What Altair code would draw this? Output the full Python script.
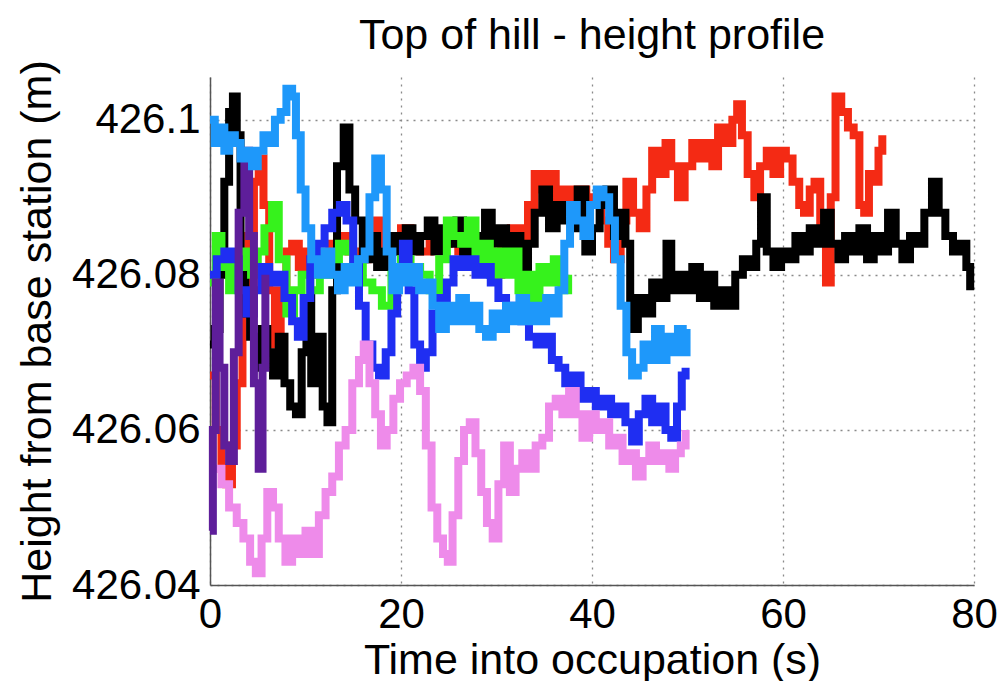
import altair as alt
import pandas as pd

# ---- data: (time s, height m) ----
red_pts = [(0, 426.067), (0.6, 426.060), (1.2, 426.055), (1.7, 426.053), (2.3, 426.058), (2.8, 426.066),
           (3.4, 426.075), (4.0, 426.085), (4.6, 426.092), (5.1, 426.095), (5.6, 426.089), (6.2, 426.078),
           (6.8, 426.071), (7.4, 426.078), (8.0, 426.083), (8.6, 426.084), (9.3, 426.081), (10.0, 426.083),
           (10.6, 426.080), (11.5, 426.083), (12.5, 426.084), (13.5, 426.085), (14.5, 426.083), (15.5, 426.082),
           (16.5, 426.085), (17.3, 426.087), (18.0, 426.084), (19.0, 426.083), (20.0, 426.086), (21.0, 426.085),
           (22.0, 426.083), (23.0, 426.085), (24.0, 426.084), (25.0, 426.086), (26.0, 426.083), (27.0, 426.085),
           (28.0, 426.083), (29.5, 426.080), (30.5, 426.084), (31.5, 426.086), (32.5, 426.085), (33.3, 426.089),
           (34.0, 426.093), (34.8, 426.091), (35.5, 426.093), (36.2, 426.090), (37.0, 426.091), (37.8, 426.089),
           (38.6, 426.091), (39.4, 426.090), (40.2, 426.089), (41.0, 426.087), (41.7, 426.084), (42.3, 426.082),
           (43.0, 426.087), (43.6, 426.092), (44.3, 426.088), (45.0, 426.086), (45.7, 426.091), (46.3, 426.096),
           (47.0, 426.093), (47.7, 426.097), (48.3, 426.094), (49.0, 426.090), (49.7, 426.094), (50.5, 426.097),
           (51.2, 426.095), (52.0, 426.097), (52.6, 426.094), (53.2, 426.099), (54.0, 426.097), (54.7, 426.100),
           (55.2, 426.102), (55.7, 426.098), (56.3, 426.093), (57.0, 426.090), (57.6, 426.094), (58.3, 426.096),
           (59.0, 426.093), (59.7, 426.096), (60.3, 426.095), (61.0, 426.092), (61.7, 426.089), (62.2, 426.088),
           (62.8, 426.091), (63.3, 426.092), (63.9, 426.086), (64.5, 426.079), (65.0, 426.090), (65.5, 426.103),
           (66.1, 426.101), (66.8, 426.099), (67.4, 426.098), (68.0, 426.089), (68.5, 426.088), (69.0, 426.093),
           (69.5, 426.092), (70.0, 426.096), (70.4, 426.098)]

black_pts = [(0, 426.071), (0.5, 426.073), (1.0, 426.080), (1.5, 426.092), (2.0, 426.101), (2.4, 426.103),
             (2.8, 426.098), (3.2, 426.082), (3.7, 426.075), (4.2, 426.072), (4.8, 426.068), (5.4, 426.073),
             (6.0, 426.070), (6.6, 426.067), (7.2, 426.072), (7.8, 426.066), (8.4, 426.063), (9.0, 426.062),
             (9.6, 426.070), (10.1, 426.077), (10.6, 426.066), (11.2, 426.072), (11.8, 426.063), (12.3, 426.061),
             (12.8, 426.078), (13.3, 426.094), (14.0, 426.099), (14.6, 426.091), (15.2, 426.087), (16.0, 426.082),
             (16.8, 426.085), (17.5, 426.081), (18.3, 426.083), (19.0, 426.085), (19.8, 426.083), (20.5, 426.086),
             (21.2, 426.083), (22.0, 426.085), (22.8, 426.087), (23.5, 426.083), (24.3, 426.086), (25.0, 426.084),
             (25.8, 426.087), (26.5, 426.082), (27.3, 426.085), (28.0, 426.083), (28.8, 426.088), (29.5, 426.084),
             (30.3, 426.086), (31.0, 426.083), (31.8, 426.085), (32.5, 426.081), (33.3, 426.084), (34.0, 426.088),
             (34.8, 426.091), (35.5, 426.086), (36.3, 426.089), (37.0, 426.087), (37.8, 426.086), (38.5, 426.091),
             (39.3, 426.083), (40.0, 426.086), (40.8, 426.089), (41.5, 426.091), (42.3, 426.085), (43.0, 426.088),
             (43.5, 426.084), (44.0, 426.073), (44.8, 426.077), (45.5, 426.075), (46.3, 426.079), (47.0, 426.077),
             (47.8, 426.084), (48.3, 426.078), (49.0, 426.080), (49.8, 426.078), (50.5, 426.081), (51.3, 426.077),
             (52.0, 426.080), (52.8, 426.076), (53.5, 426.078), (54.3, 426.076), (55.0, 426.080), (55.8, 426.082),
             (56.5, 426.081), (57.2, 426.084), (57.7, 426.090), (58.3, 426.083), (59.0, 426.081), (59.8, 426.083),
             (60.5, 426.082), (61.3, 426.085), (62.0, 426.083), (62.8, 426.086), (63.5, 426.084), (64.3, 426.088),
             (65.0, 426.084), (65.8, 426.082), (66.5, 426.085), (67.3, 426.083), (68.0, 426.086), (68.8, 426.082),
             (69.5, 426.085), (70.3, 426.083), (71.0, 426.088), (71.8, 426.084), (72.5, 426.082), (73.3, 426.085),
             (74.0, 426.084), (74.8, 426.088), (75.6, 426.092), (76.3, 426.088), (77.0, 426.085), (77.8, 426.083),
             (78.5, 426.084), (79.2, 426.081), (79.6, 426.078)]

green_pts = [(0, 426.079), (0.6, 426.085), (1.2, 426.081), (2.0, 426.078), (2.8, 426.081), (3.5, 426.083),
             (4.3, 426.080), (5.0, 426.083), (5.7, 426.086), (6.5, 426.089), (7.2, 426.082), (8.0, 426.075),
             (8.8, 426.078), (9.6, 426.080), (10.5, 426.078), (11.5, 426.080), (12.5, 426.082), (13.5, 426.084),
             (14.2, 426.083), (15.0, 426.081), (16.0, 426.079), (17.0, 426.078), (18.0, 426.076), (19.0, 426.080),
             (20.0, 426.082), (21.0, 426.081), (22.0, 426.080), (23.0, 426.078), (24.0, 426.082), (24.8, 426.087),
             (25.5, 426.085), (26.3, 426.084), (27.0, 426.087), (27.8, 426.082), (28.5, 426.084), (29.3, 426.080),
             (30.0, 426.083), (30.8, 426.080), (31.5, 426.083), (32.3, 426.078), (33.0, 426.080), (33.8, 426.077),
             (34.5, 426.081), (35.3, 426.079), (36.0, 426.082), (36.8, 426.078), (37.5, 426.080)]

blue_pts = [(0, 426.080), (0.7, 426.082), (1.5, 426.083), (2.3, 426.082), (3.0, 426.078), (3.8, 426.075),
            (4.6, 426.078), (5.4, 426.081), (6.2, 426.079), (7.0, 426.080), (7.8, 426.077), (8.6, 426.074),
            (9.2, 426.072), (9.8, 426.077), (10.5, 426.082), (11.2, 426.084), (12.0, 426.086), (12.8, 426.088),
            (13.6, 426.089), (14.3, 426.087), (15.0, 426.082), (15.6, 426.076), (16.3, 426.071), (17.0, 426.068),
            (17.7, 426.067), (18.4, 426.070), (19.0, 426.075), (19.6, 426.081), (20.2, 426.084), (20.8, 426.078),
            (21.4, 426.071), (22.0, 426.068), (22.6, 426.070), (23.3, 426.075), (24.0, 426.077), (24.8, 426.079),
            (25.5, 426.082), (26.3, 426.081), (27.0, 426.082), (27.8, 426.080), (28.6, 426.081), (29.4, 426.079),
            (30.2, 426.077), (31.0, 426.076), (31.8, 426.075), (32.6, 426.074), (33.4, 426.072), (34.2, 426.071),
            (35.0, 426.072), (35.8, 426.069), (36.5, 426.068), (37.2, 426.066), (38.0, 426.067), (38.8, 426.064),
            (39.6, 426.065), (40.4, 426.063), (41.2, 426.064), (42.0, 426.062), (42.8, 426.063), (43.5, 426.061),
            (44.2, 426.0585), (44.9, 426.062), (45.6, 426.064), (46.3, 426.061), (47.0, 426.063), (47.7, 426.060),
            (48.3, 426.059), (48.9, 426.063), (49.4, 426.067), (49.8, 426.068)]

lightblue_pts = [(0, 426.100), (0.5, 426.097), (1.0, 426.099), (1.5, 426.096), (2.0, 426.098), (2.6, 426.097),
                 (3.2, 426.095), (3.8, 426.096), (4.4, 426.094), (5.0, 426.096), (5.6, 426.098), (6.2, 426.097),
                 (6.8, 426.100), (7.4, 426.101), (8.0, 426.104), (8.6, 426.103), (9.0, 426.098), (9.5, 426.091),
                 (10.0, 426.086), (10.6, 426.082), (11.3, 426.080), (12.0, 426.083), (12.7, 426.080), (13.4, 426.078),
                 (14.1, 426.081), (14.8, 426.079), (15.5, 426.082), (16.2, 426.083), (16.7, 426.090), (17.3, 426.095),
                 (17.9, 426.091), (18.5, 426.083), (19.1, 426.078), (19.8, 426.081), (20.5, 426.079), (21.2, 426.081),
                 (21.9, 426.078), (22.6, 426.079), (23.3, 426.076), (24.0, 426.073), (24.7, 426.076), (25.4, 426.074),
                 (26.1, 426.077), (26.8, 426.074), (27.5, 426.076), (28.2, 426.073), (28.9, 426.072), (29.6, 426.075),
                 (30.3, 426.073), (31.0, 426.076), (31.7, 426.074), (32.4, 426.077), (33.1, 426.074), (33.8, 426.076),
                 (34.5, 426.074), (35.2, 426.077), (35.9, 426.075), (36.5, 426.078), (37.1, 426.084), (37.7, 426.089),
                 (38.4, 426.087), (39.1, 426.085), (39.8, 426.089), (40.5, 426.091), (41.2, 426.090), (41.8, 426.087),
                 (42.4, 426.082), (43.0, 426.076), (43.6, 426.070), (44.2, 426.067), (44.8, 426.068), (45.4, 426.071),
                 (46.0, 426.069), (46.6, 426.073), (47.2, 426.069), (47.8, 426.072), (48.4, 426.070), (49.0, 426.073),
                 (49.5, 426.070), (49.9, 426.073)]

pink_pts = [(0.5, 426.055), (1.2, 426.053), (2.0, 426.050), (2.8, 426.048), (3.5, 426.046), (4.2, 426.043),
            (4.8, 426.0415), (5.4, 426.046), (6.0, 426.052), (6.6, 426.050), (7.2, 426.046), (7.9, 426.043),
            (8.6, 426.046), (9.3, 426.044), (10.0, 426.047), (10.7, 426.044), (11.4, 426.049), (12.1, 426.052),
            (12.8, 426.054), (13.5, 426.058), (14.2, 426.060), (14.9, 426.066), (15.6, 426.069), (16.1, 426.071),
            (16.7, 426.066), (17.3, 426.062), (17.9, 426.058), (18.5, 426.060), (19.2, 426.064), (19.9, 426.066),
            (20.6, 426.067), (21.3, 426.068), (22.0, 426.065), (22.6, 426.058), (23.2, 426.050), (23.8, 426.046),
            (24.4, 426.044), (24.9, 426.043), (25.4, 426.049), (26.0, 426.056), (26.6, 426.060), (27.2, 426.061),
            (27.8, 426.057), (28.4, 426.052), (29.0, 426.048), (29.6, 426.046), (30.2, 426.053), (30.8, 426.058),
            (31.4, 426.052), (32.0, 426.055), (32.7, 426.057), (33.4, 426.055), (34.1, 426.058), (34.8, 426.059),
            (35.5, 426.063), (36.2, 426.064), (36.9, 426.062), (37.6, 426.065), (38.3, 426.062), (39.0, 426.059),
            (39.7, 426.062), (40.4, 426.060), (41.1, 426.061), (41.8, 426.058), (42.5, 426.059), (43.2, 426.056),
            (43.9, 426.057), (44.6, 426.054), (45.3, 426.056), (46.0, 426.058), (46.7, 426.056), (47.4, 426.057),
            (48.1, 426.055), (48.7, 426.057), (49.3, 426.058), (49.8, 426.060)]

purple_pts = [(0, 426.047), (0.3, 426.060), (0.6, 426.079), (1.0, 426.068), (1.5, 426.058), (2.0, 426.056),
              (2.5, 426.070), (3.0, 426.088), (3.6, 426.096), (4.1, 426.085), (4.6, 426.066), (5.1, 426.055),
              (5.5, 426.068), (5.8, 426.080)]

# drawing order (bottom to top) and colours
series = [
    ("red", red_pts, "#F42A14"),
    ("black", black_pts, "#000000"),
    ("green", green_pts, "#36F21C"),
    ("blue", blue_pts, "#1F2EF2"),
    ("pink", pink_pts, "#EE8BEA"),
    ("purple", purple_pts, "#5E1E9A"),
    ("lightblue", lightblue_pts, "#1E98FA"),
]

x_ticks = [0, 20, 40, 60, 80]
y_ticks = [426.04, 426.06, 426.08, 426.1]

rows = []
for name, pts, _ in series:
    for t, h in pts:
        rows.append({"t": t, "h": h, "series": name})
df = pd.DataFrame(rows)

FONT = "Liberation Sans"

x_enc = alt.X(
    "t:Q",
    scale=alt.Scale(domain=[0, 80], nice=False, zero=False),
    axis=alt.Axis(
        values=x_ticks, title="Time into occupation (s)", grid=True,
        tickSize=0, labelPadding=9, titlePadding=4, labelFlush=False,
    ),
)
y_enc = alt.Y(
    "h:Q",
    scale=alt.Scale(domain=[426.04, 426.1055], nice=False, zero=False),
    axis=alt.Axis(
        values=y_ticks, title="Height from base station (m)", grid=True,
        tickSize=0, labelPadding=10, titlePadding=12,
        labelExpr="format(datum.value, '.2f') == '426.10' ? '426.1' : format(datum.value, '.2f')",
    ),
)

base = alt.Chart(df).encode(x=x_enc, y=y_enc)

layers = [
    base.transform_filter(alt.datum.series == name).mark_line(
        color=color, strokeWidth=8, strokeJoin="miter", strokeMiterLimit=2,
        interpolate="step-after",
    )
    for name, _, color in series
]

chart = alt.layer(*layers).properties(
    width=764,
    height=508,
    title=alt.TitleParams(
        "Top of hill - height profile", fontSize=43, font=FONT, fontWeight="normal",
        color="black", anchor="middle", offset=18, dy=16,
    ),
    autosize=alt.AutoSizeParams(type="none"),
    padding={"left": 202, "top": 69, "right": 23, "bottom": 96},
).configure_view(stroke=None).configure_axis(
    labelFont=FONT, labelFontSize=42, labelColor="black",
    titleFont=FONT, titleFontSize=43, titleFontWeight="normal", titleColor="black",
    domainColor="#555555", domainWidth=1.5,
    gridColor="#8a8a8a", gridDash=[2, 5], gridWidth=1.3, gridOpacity=1,
)

chart.save("out.html", embed_options={"renderer": "svg", "actions": False})
